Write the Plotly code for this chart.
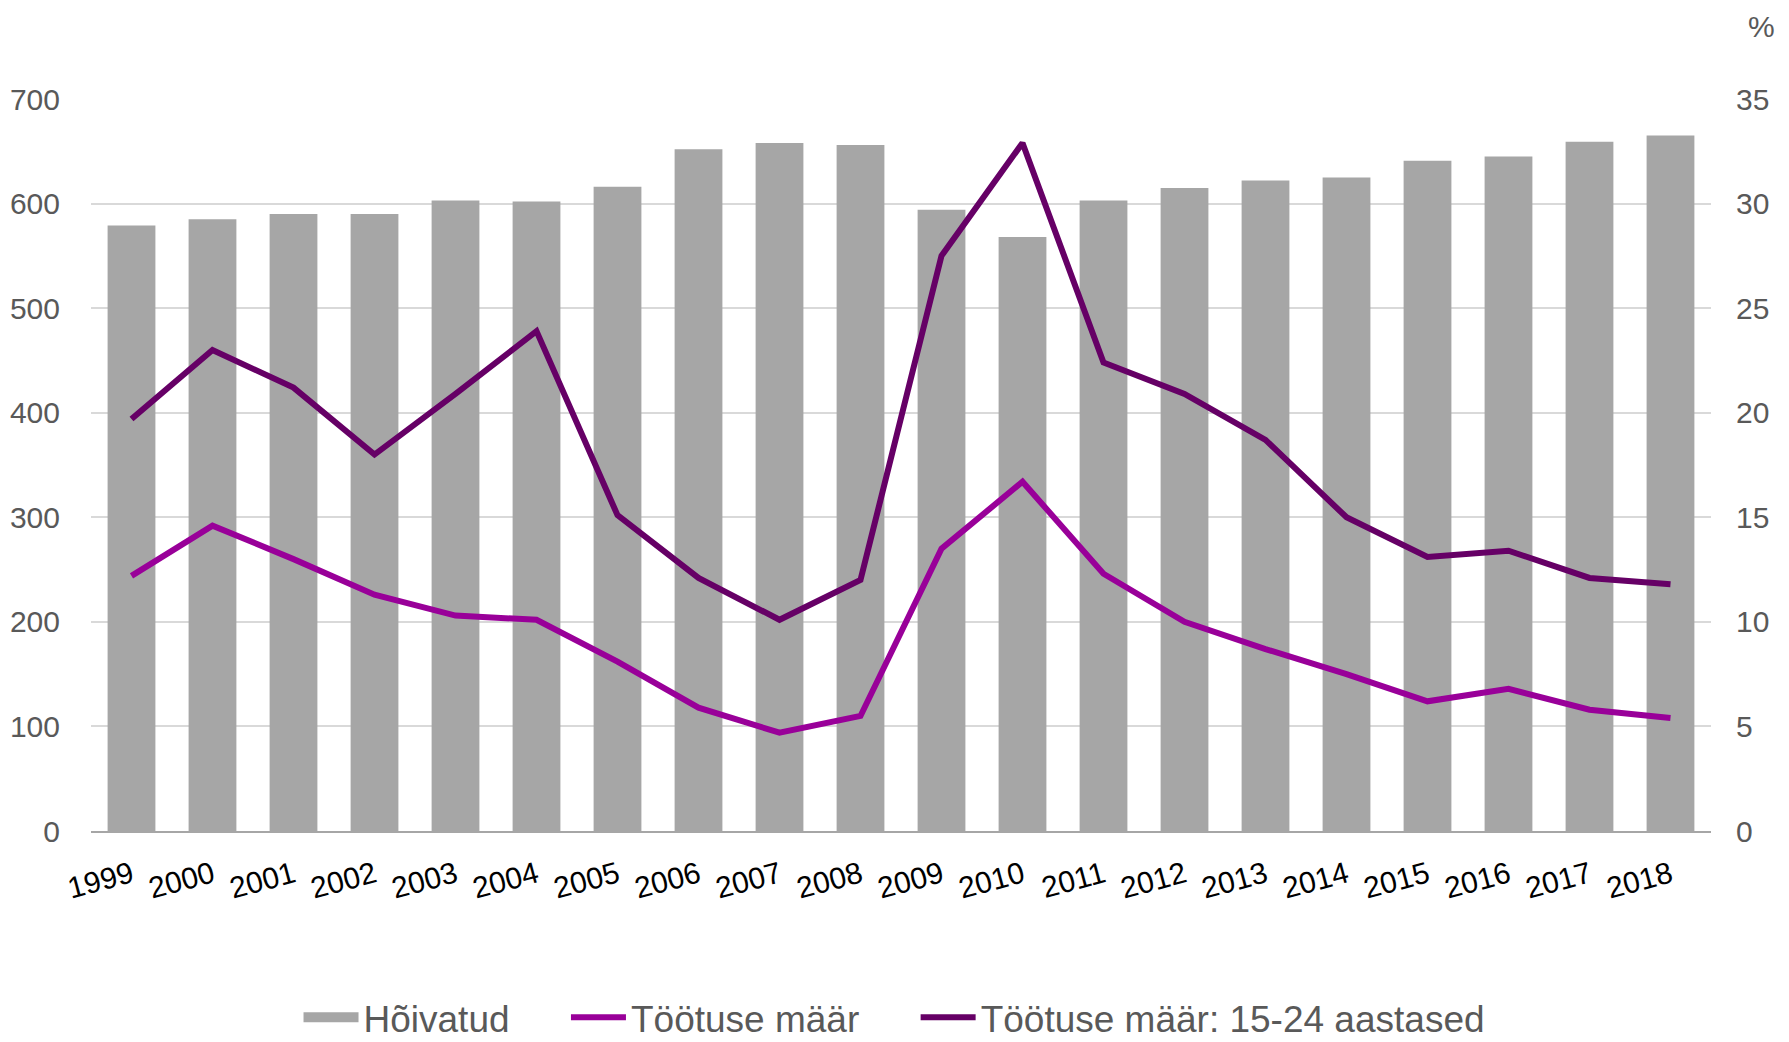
import plotly.graph_objects as go

years = [str(y) for y in range(1999, 2019)]
hoivatud = [579, 585, 590, 590, 603, 602, 616, 652, 658, 656,
            594, 568, 603, 615, 622, 625, 641, 645, 659, 665]
tootuse_maar = [12.2, 14.6, 13.0, 11.3, 10.3, 10.1, 8.1, 5.9, 4.7, 5.5,
                13.5, 16.7, 12.3, 10.0, 8.7, 7.5, 6.2, 6.8, 5.8, 5.4]
tootuse_noored = [19.7, 23.0, 21.2, 18.0, 20.9, 23.9, 15.1, 12.1, 10.1, 12.0,
                  27.5, 32.9, 22.4, 20.9, 18.7, 15.0, 13.1, 13.4, 12.1, 11.8]
left_ticks = [0, 100, 200, 300, 400, 500, 600, 700]
right_ticks = [0, 5, 10, 15, 20, 25, 30, 35]

FONT = "Liberation Sans, Arial, sans-serif"
GRAY_TXT = "#595959"
BAR_COLOR = "#a6a6a6"
PAD = "\u00a0" * 5

fig = go.Figure()
fig.add_trace(go.Bar(x=years, y=hoivatud, name="Hõivatud", legendgroup="hoiv",
                     showlegend=False,
                     marker=dict(color=BAR_COLOR, line=dict(width=0))))
# legend-only entry for the bars, drawn as a wide grey block like the original
fig.add_trace(go.Scatter(x=[None], y=[None], name="Hõivatud" + PAD, legendgroup="hoiv",
                         mode="lines", line=dict(color=BAR_COLOR, width=20),
                         hoverinfo="skip"))
fig.add_trace(go.Scatter(x=years, y=tootuse_maar, name="Töötuse määr" + PAD, yaxis="y2",
                         mode="lines", line=dict(color="#990099", width=6)))
fig.add_trace(go.Scatter(x=years, y=tootuse_noored, name="Töötuse määr: 15-24 aastased",
                         yaxis="y2", mode="lines", line=dict(color="#660066", width=6)))

fig.update_layout(
    width=1781, height=1034,
    autosize=False,
    margin=dict(l=83, r=78, t=91, b=211, autoexpand=False),
    paper_bgcolor="white", plot_bgcolor="white",
    font=dict(family=FONT, size=30, color=GRAY_TXT),
    bargap=0.41,
    showlegend=True,
    legend=dict(orientation="h", x=0.496, xanchor="center",
                y=-0.255, yanchor="middle", font=dict(size=37, color=GRAY_TXT),
                traceorder="normal", itemwidth=55),
    xaxis=dict(type="category", tickangle=-15, tickfont=dict(color="black", size=30),
               showgrid=False, showline=True, linecolor="#a6a6a6", linewidth=2,
               ticks="outside", ticklen=13, tickcolor="rgba(0,0,0,0)", automargin=False),
    yaxis=dict(range=[0, 700], tickvals=left_ticks, showgrid=True, gridcolor="#d9d9d9",
               gridwidth=2, zeroline=False, showline=False, automargin=False,
               ticks="outside", ticklen=24, tickcolor="rgba(0,0,0,0)"),
    yaxis2=dict(range=[0, 35], tickvals=right_ticks, overlaying="y", side="right",
                showgrid=False, zeroline=False, showline=False, automargin=False,
                ticks="outside", ticklen=18, tickcolor="rgba(0,0,0,0)"),
    annotations=[dict(text="%", xref="paper", yref="paper", x=1.0405, y=1.124,
                      showarrow=False, font=dict(size=30, color=GRAY_TXT))],
)

fig.write_html("out.html")
